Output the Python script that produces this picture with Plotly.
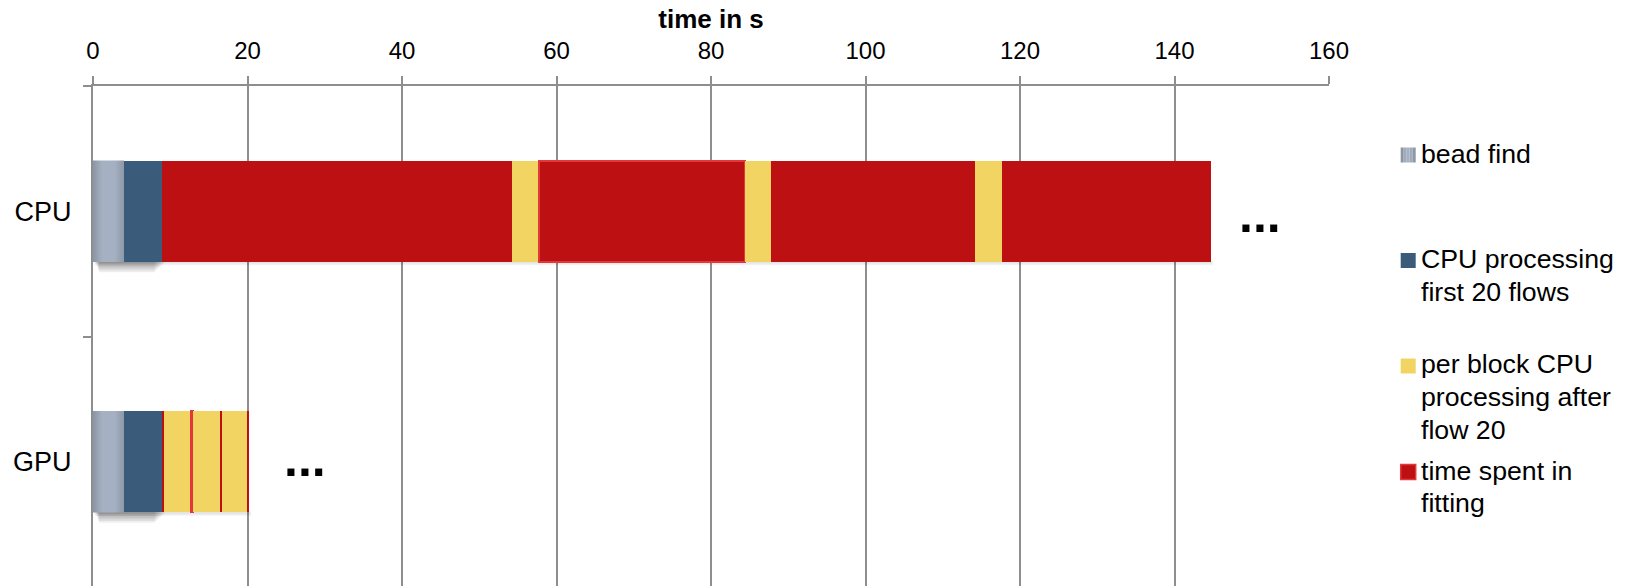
import plotly.graph_objects as go

# ---- data -------------------------------------------------------------
categories = ["CPU", "GPU"]
bead_find = [4.0, 4.0]
cpu_first_20_flows = [4.9, 4.9]
# after flow 20 the run alternates fitting / per-block CPU processing
fitting_cpu = [45.3, 26.7, 26.4, 27.0]
fitting_gpu = [0.35, 0.25, 0.3, 0.25]
per_block_cpu = [3.5, 3.4, 3.5]
per_block_gpu = [3.45, 3.5, 3.2]
highlighted_fitting_block = 1
x_ticks = [0, 20, 40, 60, 80, 100, 120, 140, 160]
legend_labels = [
    ["bead find"],
    ["CPU processing", "first 20 flows"],
    ["per block CPU", "processing after", "flow 20"],
    ["time spent in", "fitting"],
]
continuation_x = [151.1, 27.5]

# ---- style ------------------------------------------------------------
FONT = "Liberation Sans, Arial, sans-serif"
GRID = "#8e8e8e"
C_BEAD = "#9ba7b8"
C_BEAD_GRAD = [[0, "#8b95a3"], [0.3, "#a5b1c2"], [0.7, "#a5b1c2"], [1, "#8d98a8"]]
C_FIRST20 = "#3b5b7b"
C_PERBLOCK = "#f1d461"
C_FIT = "#bd1013"
C_FIT_EDGE = "#e2383b"
BAR_W = 0.405

# layout geometry (pixels)
W, H = 1625, 586
ML, MR, MT, MB = 93, 296, 86, 0
PW, PH = W - ML - MR, H - MT - MB
Y_RANGE = [1.496, -0.5]
PX_PER_S = PW / 160.0
PX_PER_Y = PH / (Y_RANGE[0] - Y_RANGE[1])


def paper_x(px):
    return (px - ML) / PW


def paper_y(py):
    return (H - MB - py) / PH


ypos = list(range(len(categories)))

# ordered stack of segments: (values per category, colour, highlighted)
segments = [
    (bead_find, C_BEAD, False),
    (cpu_first_20_flows, C_FIRST20, False),
]
for i in range(len(fitting_cpu)):
    segments.append(([fitting_cpu[i], fitting_gpu[i]], C_FIT, i == highlighted_fitting_block))
    if i < len(per_block_cpu):
        segments.append(([per_block_cpu[i], per_block_gpu[i]], C_PERBLOCK, False))

fig = go.Figure()
for vals, color, hl in segments:
    fig.add_trace(go.Bar(
        x=vals, y=ypos, orientation="h", width=BAR_W,
        marker=dict(color=color,
                    line=dict(width=2 if hl else 0, color=C_FIT_EDGE)),
        showlegend=False, hoverinfo="x",
    ))

# shaded bead-find blocks
for k, y in enumerate(ypos):
    b = bead_find[k]
    y0, y1 = y - BAR_W / 2, y + BAR_W / 2
    fig.add_trace(go.Scatter(
        x=[0, b, b, 0, 0], y=[y0, y0, y1, y1, y0],
        mode="lines", line=dict(width=0), fill="toself",
        fillgradient=dict(type="horizontal", colorscale=C_BEAD_GRAD),
        showlegend=False, hoverinfo="skip",
    ))

# soft drop shadows under the bars
shapes = []
for k, y in enumerate(ypos):
    bottom = y + BAR_W / 2
    first_end = bead_find[k] + cpu_first_20_flows[k]
    total = sum(v[k] for v, _, _ in segments)
    for j in range(1, 4):
        shapes.append(dict(
            type="rect", xref="x", yref="y", layer="between",
            x0=0.2, x1=total + j * 0.8 / PX_PER_S,
            y0=bottom - 1 / PX_PER_Y, y1=bottom + j * 1.2 / PX_PER_Y,
            fillcolor="rgba(0,0,0,0.035)", line=dict(width=0),
        ))
    for j in range(1, 7):
        shapes.append(dict(
            type="rect", xref="x", yref="y", layer="between",
            x0=0.3 + j * 0.08, x1=first_end + 0.6 - j * 0.25,
            y0=bottom - 1 / PX_PER_Y, y1=bottom + j * 1.7 / PX_PER_Y,
            fillcolor="rgba(0,0,0,0.065)", line=dict(width=0),
        ))

# legend built from shapes + text
legend_colors = [C_BEAD, C_FIRST20, C_PERBLOCK, C_FIT]
legend_first_line_y = [155, 260.5, 366, 472]
LINE_STEP = 32.6
ICON_X0, ICON = 1400.7, 15
TEXT_X = 1418.8
LEG_FONT = 26.7
annotations = []
for i, (lines, col, cy) in enumerate(zip(legend_labels, legend_colors, legend_first_line_y)):
    if i == 0:
        stripes = ["#8b95a3", "#a0acbc", "#a6b2c3", "#a0acbc", "#8d98a8"]
        sw = ICON / len(stripes)
        for s, sc in enumerate(stripes):
            shapes.append(dict(
                type="rect", xref="paper", yref="paper",
                x0=paper_x(ICON_X0 + s * sw), x1=paper_x(ICON_X0 + (s + 1) * sw),
                y0=paper_y(cy + ICON / 2), y1=paper_y(cy - ICON / 2),
                fillcolor=sc, line=dict(width=0),
            ))
    else:
        shapes.append(dict(
            type="rect", xref="paper", yref="paper",
            x0=paper_x(ICON_X0), x1=paper_x(ICON_X0 + ICON),
            y0=paper_y(cy + ICON / 2), y1=paper_y(cy - ICON / 2),
            fillcolor=col,
            line=dict(width=1.5 if col == C_FIT else 0, color=C_FIT_EDGE),
        ))
    for n, line in enumerate(lines):
        annotations.append(dict(
            x=paper_x(TEXT_X), y=paper_y(cy + n * LINE_STEP - 1.5),
            xref="paper", yref="paper", xanchor="left", yanchor="middle",
            text=line, align="left", showarrow=False,
            font=dict(size=LEG_FONT, color="black", family=FONT),
        ))

# continuation marks after each bar
for k, y in enumerate(ypos):
    annotations.append(dict(
        x=continuation_x[k], y=y, xref="x", yref="y",
        text="<b>...</b>", showarrow=False, xanchor="center", yanchor="middle",
        yshift=[-4, 3][k],
        font=dict(size=50, color="black", family=FONT),
    ))

fig.update_layout(
    width=W, height=H,
    margin=dict(l=ML, r=MR, t=MT, b=MB, pad=0),
    barmode="stack",
    plot_bgcolor="white", paper_bgcolor="white",
    font=dict(family=FONT, color="black"),
    shapes=shapes, annotations=annotations,
    showlegend=False,
    xaxis=dict(
        side="top", range=[0, 160], tickmode="array", tickvals=x_ticks,
        ticks="outside", ticklen=8, tickwidth=2, tickcolor=GRID,
        showline=True, linecolor=GRID, linewidth=2,
        showgrid=True, gridcolor=GRID, gridwidth=2, zeroline=False,
        tickfont=dict(size=24, color="black", family=FONT),
        ticklabelstandoff=7,
        title=dict(text="<b>time in s</b>", standoff=1,
                   font=dict(size=26, color="black", family=FONT)),
    ),
    yaxis=dict(
        range=Y_RANGE, tickmode="array", tickvals=ypos, ticktext=categories,
        ticks="", showline=True, linecolor=GRID, linewidth=2,
        showgrid=False, zeroline=False,
        minor=dict(tickmode="array", tickvals=[-0.5, 0.5, 1.5], ticks="outside",
                   ticklen=8, tickwidth=2, tickcolor=GRID),
        tickfont=dict(size=27, color="black", family=FONT),
        ticklabelstandoff=14,
    ),
)

fig.write_html("out.html")
